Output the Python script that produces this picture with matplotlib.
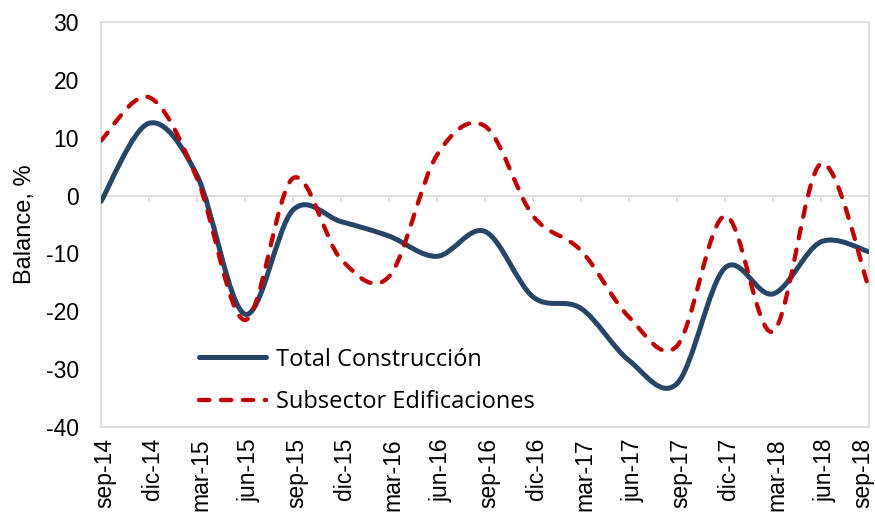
import matplotlib
matplotlib.use("Agg")
import matplotlib.pyplot as plt
from matplotlib.path import Path
from matplotlib.patches import PathPatch
from matplotlib.lines import Line2D
from matplotlib.transforms import ScaledTranslation

plt.rcParams['font.family'] = ['Liberation Sans', 'DejaVu Sans']
plt.rcParams['axes.unicode_minus'] = False

fechas = ['sep-14', 'dic-14', 'mar-15', 'jun-15', 'sep-15', 'dic-15', 'mar-16', 'jun-16', 'sep-16',
          'dic-16', 'mar-17', 'jun-17', 'sep-17', 'dic-17', 'mar-18', 'jun-18', 'sep-18']
total = [-1, 12.5, 3.5, -20.5, -2.5, -4.5, -7, -10.5, -6.2, -17.5, -19.5, -28.5, -32.5, -12.5, -17, -8, -9.7]
edif = [9.5, 17, 3, -21.5, 3, -11, -14, 7, 12, -3.5, -9.5, -21, -26, -3.5, -23.5, 5.5, -16]

azul = '#264569'
rojo = '#C00000'
gris = '#D9D9D9'


def smooth_path(x, y):
    # excel-like smoothed line (catmull-rom -> bezier)
    n = len(x)
    verts = [(x[0], y[0])]
    codes = [Path.MOVETO]
    for i in range(n - 1):
        xa, ya = x[max(i - 1, 0)], y[max(i - 1, 0)]
        xb, yb = x[min(i + 2, n - 1)], y[min(i + 2, n - 1)]
        c1 = (x[i] + (x[i + 1] - xa) / 6.0, y[i] + (y[i + 1] - ya) / 6.0)
        c2 = (x[i + 1] - (xb - x[i]) / 6.0, y[i + 1] - (yb - y[i]) / 6.0)
        verts += [c1, c2, (x[i + 1], y[i + 1])]
        codes += [Path.CURVE4] * 3
    return Path(verts, codes)


fig = plt.figure(figsize=(8.75, 5.19), dpi=100)
ax = fig.add_axes([0.1154, 0.1773, 0.8777, 0.7803])

xs = list(range(len(fechas)))
ax.add_patch(PathPatch(smooth_path(xs, total), facecolor='none', edgecolor=azul, lw=3.6,
                       capstyle='round', joinstyle='round', zorder=3))
ax.add_patch(PathPatch(smooth_path(xs, edif), facecolor='none', edgecolor=rojo, lw=3.1,
                       linestyle=(0, (2.4, 2.7)), capstyle='round', joinstyle='round', zorder=4))

ax.set_xlim(0, 16)
ax.set_ylim(-40, 30)

for s in ax.spines.values():
    s.set_color(gris)
    s.set_linewidth(1.2)

ax.set_xticks(xs)
ax.set_xticklabels(fechas, rotation=90, fontsize=16.5)
ax.tick_params(axis='x', length=0, pad=8)
xlabs = ax.get_xticklabels()
for lab in xlabs[:-1]:
    lab.set_transform(lab.get_transform() + ScaledTranslation(0.04, 0, fig.dpi_scale_trans))
# keep the last label inside the figure
xlabs[-1].set_transform(xlabs[-1].get_transform() + ScaledTranslation(-0.06, 0, fig.dpi_scale_trans))

ax.set_yticks(range(-40, 31, 10))
ax.tick_params(axis='y', length=0, pad=16, labelsize=16.5)
ax.set_ylabel('Balance, %', fontsize=17, labelpad=7)

# zero line with the category tick marks
sec = ax.secondary_xaxis(40 / 70)
sec.xaxis.set_ticks_position('bottom')
sec.set_xticks(xs[1:])
sec.tick_params(axis='x', direction='out', length=4.3, width=1.2, color=gris, labelbottom=False, labeltop=False)
for s in sec.spines.values():
    s.set_color(gris)
    s.set_linewidth(1.2)

handles = [Line2D([], [], color=azul, lw=3.6, solid_capstyle='round'),
           Line2D([], [], color=rojo, lw=3.1, linestyle=(0, (2.4, 2.7)), dash_capstyle='round')]
ax.legend(handles, ['Total Construcción', 'Subsector Edificaciones'], loc='upper left',
          bbox_to_anchor=(0.127, 0.196), frameon=False, handlelength=2.85,
          handletextpad=0.42, labelspacing=0.78, borderpad=0, borderaxespad=0,
          prop={'family': 'Open Sans', 'size': 17})

fig.savefig('out.png', dpi=100)
